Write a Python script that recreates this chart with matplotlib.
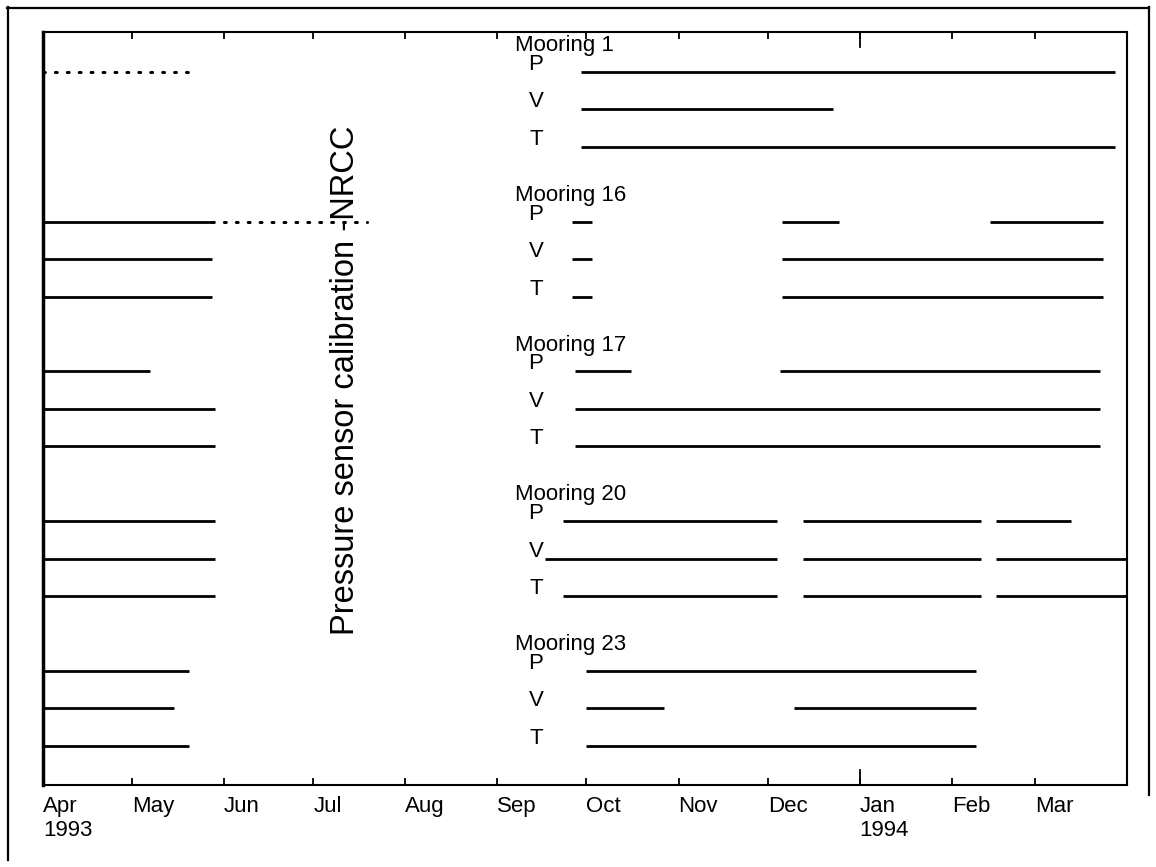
import matplotlib
matplotlib.use("Agg")
import matplotlib.pyplot as plt
from matplotlib.lines import Line2D
from datetime import datetime

plt.rcParams['font.family'] = ['Liberation Sans', 'DejaVu Sans']

# ---------------- data ----------------
moorings = ["Mooring 1", "Mooring 16", "Mooring 17", "Mooring 20", "Mooring 23"]
variables = ["P", "V", "T"]

# solid record segments (start, end) per mooring / variable
m1_P = [("1993-09-29", "1994-03-28")]
m1_V = [("1993-09-29", "1993-12-23")]
m1_T = [("1993-09-29", "1994-03-28")]

m16_P = [("1993-04-01", "1993-05-28"), ("1993-09-26", "1993-10-03"),
         ("1993-12-06", "1993-12-25"), ("1994-02-14", "1994-03-24")]
m16_V = [("1993-04-01", "1993-05-28"), ("1993-09-26", "1993-10-03"),
         ("1993-12-06", "1994-03-24")]
m16_T = [("1993-04-01", "1993-05-28"), ("1993-09-26", "1993-10-03"),
         ("1993-12-06", "1994-03-24")]

m17_P = [("1993-04-01", "1993-05-07"), ("1993-09-27", "1993-10-16"),
         ("1993-12-05", "1994-03-23")]
m17_V = [("1993-04-01", "1993-05-29"), ("1993-09-27", "1994-03-23")]
m17_T = [("1993-04-01", "1993-05-29"), ("1993-09-27", "1994-03-23")]

m20_P = [("1993-04-01", "1993-05-29"), ("1993-09-23", "1993-12-04"),
         ("1993-12-13", "1994-02-11"), ("1994-02-16", "1994-03-13")]
m20_V = [("1993-04-01", "1993-05-29"), ("1993-09-17", "1993-12-04"),
         ("1993-12-13", "1994-02-11"), ("1994-02-16", "1994-04-01")]
m20_T = [("1993-04-01", "1993-05-29"), ("1993-09-23", "1993-12-04"),
         ("1993-12-13", "1994-02-11"), ("1994-02-16", "1994-04-01")]

m23_P = [("1993-04-01", "1993-05-20"), ("1993-10-01", "1994-02-09")]
m23_V = [("1993-04-01", "1993-05-15"), ("1993-10-01", "1993-10-27"),
         ("1993-12-10", "1994-02-09")]
m23_T = [("1993-04-01", "1993-05-20"), ("1993-10-01", "1994-02-09")]

# dotted (pressure calibration) segments
m1_P_dotted = [("1993-04-01", "1993-05-23")]
m16_P_dotted = [("1993-05-28", "1993-07-19")]

month_ticks = ["1993-04-01", "1993-05-01", "1993-06-01", "1993-07-01", "1993-08-01",
               "1993-09-01", "1993-10-01", "1993-11-01", "1993-12-01", "1994-01-01",
               "1994-02-01", "1994-03-01"]
month_labels = ["Apr\n1993", "May", "Jun", "Jul", "Aug", "Sep", "Oct", "Nov", "Dec",
                "Jan\n1994", "Feb", "Mar"]
calib_text = "Pressure sensor calibration -NRCC"

solid = [[m1_P, m1_V, m1_T], [m16_P, m16_V, m16_T], [m17_P, m17_V, m17_T],
         [m20_P, m20_V, m20_T], [m23_P, m23_V, m23_T]]
dotted = {(0, 0): m1_P_dotted, (1, 0): m16_P_dotted}

def d(s):
    return datetime.strptime(s, "%Y-%m-%d")

# ---------------- figure ----------------
W, H = 1156, 867
fig = plt.figure(figsize=(W / 100, H / 100), dpi=100)
ax = fig.add_axes([43 / W, 1 - 785 / H, (1127 - 43) / W, (785 - 32) / H])

lw = 2.0
label_x = d("1993-09-14")
moor_x = d("1993-09-07")
for i, name in enumerate(moorings):
    base = 4 * i
    ax.text(moor_x, base + 1 - 0.70, name, fontsize=16, ha="left", va="center")
    for j, var in enumerate(variables):
        y = base + 1 + j
        ax.text(label_x, y - 0.20, var, fontsize=16, ha="center", va="center")
        for s, e in solid[i][j]:
            ax.plot([d(s), d(e)], [y, y], color="black", lw=lw, solid_capstyle="butt")
        if (i, j) in dotted:
            for s, e in dotted[(i, j)]:
                ax.plot([d(s), d(e)], [y, y], color="black", lw=2.2,
                        linestyle=(0, (0.6, 3.3)), dash_capstyle="round")

ax.text(0.2795, 0.538, calib_text, transform=ax.transAxes, rotation=90,
        fontsize=23.5, ha="center", va="center")

ax.set_xlim(d("1993-04-01"), d("1994-04-01"))
ax.set_ylim(20.05, -0.07)
ax.set_yticks([])
ax.set_xticks([d(t) for t in month_ticks])
ax.set_xticklabels(month_labels, fontsize=16, ha="left", linespacing=1.15)
ax.tick_params(axis="x", direction="in", top=True, bottom=True, length=5,
               width=1.3, pad=8)
# longer tick at the year boundary
for xt in [d("1994-01-01")]:
    for yy0, yy1 in [(0, 0.02), (0.98, 1.0)]:
        ax.plot([xt, xt], [yy0, yy1], transform=ax.get_xaxis_transform(),
                color="black", lw=1.3, clip_on=False)

for sp in ax.spines.values():
    sp.set_linewidth(1.5)
ax.spines["left"].set_linewidth(2.5)

# outer frame
fig.add_artist(Line2D([7.5 / W, 7.5 / W], [1 - 7 / H, 1 - 860 / H], color="black", lw=1.6))
fig.add_artist(Line2D([7 / W, 1149 / W], [1 - 7.5 / H, 1 - 7.5 / H], color="black", lw=1.6))
fig.add_artist(Line2D([1148.5 / W, 1148.5 / W], [1 - 7 / H, 1 - 795 / H], color="black", lw=1.6))

fig.savefig("out.png", dpi=100, facecolor="white")
